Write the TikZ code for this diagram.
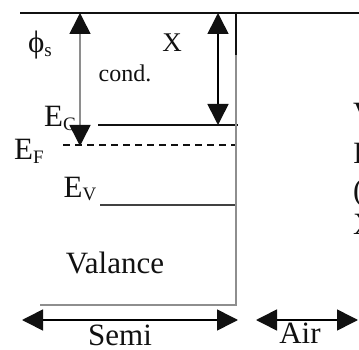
\documentclass[tikz,border=0pt]{standalone}
\usepackage{fontspec}
\setmainfont{Liberation Serif}
\usetikzlibrary{arrows.meta}
\definecolor{ink}{HTML}{111111}
\definecolor{wallgrey}{HTML}{8E8E8E}
\newcommand{\lowsub}[1]{\raisebox{-0.28ex}{\fontsize{19}{19}\selectfont #1}}

\begin{document}
\begin{tikzpicture}[x=1pt,y=-1pt,
  every node/.style={font=\fontsize{31}{31}\selectfont,text=ink,inner sep=0pt},
  level/.style={ink,line width=1.8pt},
  wall/.style={draw=wallgrey,line width=2.2pt},
  gap/.style={{Triangle[length=21pt,width=21pt,color=ink]}-{Triangle[length=21pt,width=21pt,color=ink]},line width=1.6pt}]
\useasboundingbox (0,0) rectangle (359,350);
% band levels
\coordinate (vacL) at (20,13);
\coordinate (vacR) at (362,13);
\coordinate (ecL) at (98,125);
\coordinate (ecR) at (238,125);
\coordinate (efL) at (63,145);
\coordinate (efR) at (236,145);
\coordinate (evL) at (100,205);
\coordinate (evR) at (236,205);
\draw[level] (vacL) -- (vacR);
\draw[level] (ecL) -- (ecR);
\draw[ink,line width=1.5pt,dash pattern=on 7pt off 5pt] (efL) -- (efR);
\draw[ink!80,line width=1.5pt] (evL) -- (evR);
% surface
\coordinate (surfT) at (236,13);
\coordinate (surfM) at (236,55);
\coordinate (surfB) at (236,305);
\coordinate (baseL) at (40,305);
\draw[ink,line width=1.8pt] (surfT) -- (surfM);
\draw[wall] (surfM) -- (surfB) -- (baseL);
% gaps
\coordinate (phiT) at (80,13);
\coordinate (phiB) at (80,146);
\draw[gap,draw=wallgrey] (phiT) -- (phiB);
\coordinate (chiT) at (218,13);
\coordinate (chiB) at (218,125);
\draw[gap] (chiT) -- (chiB);
% widths
\coordinate (semiL) at (22,320);
\coordinate (semiR) at (238,320);
\coordinate (airL) at (256,320);
\coordinate (airR) at (358,320);
\draw[gap] (semiL) -- (semiR);
\draw[gap] (airL) -- (airR);
% labels
\node (phis) at (40,45) {ϕ\lowsub{s}};
\node (cond) at (125,73) {\fontsize{24}{24}\selectfont cond.};
\node (chi) at (172,43) {\fontsize{27}{27}\selectfont X};
\node (ec) at (60,118) {E\lowsub{C}};
\node (ef) at (29,151) {E\lowsub{F}};
\node (ev) at (80,189) {E\lowsub{V}};
\node (val) at (115,263) {Valance};
\node (semi) at (120,335) {Semi};
\node (air) at (300,333) {Air};
% clipped text at the right edge
\node[anchor=west] (cutA) at (353,114) {V};
\node[anchor=west] (cutB) at (353,153) {I};
\node[anchor=west] (cutC) at (353,193) {(};
\node[anchor=west] (cutD) at (353,224) {X};
\end{tikzpicture}
\end{document}
